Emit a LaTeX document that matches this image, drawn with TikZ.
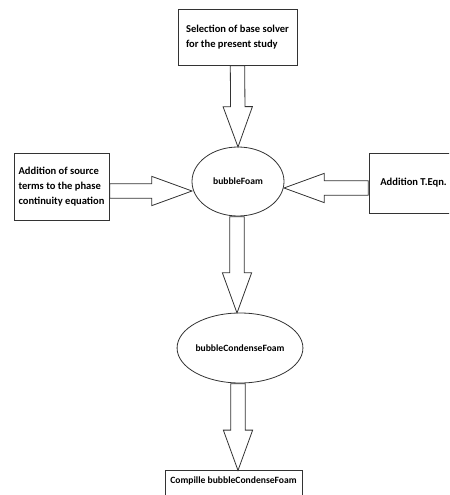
\documentclass[tikz,border=0pt]{standalone}
\usepackage{fontspec}
\setmainfont{Carlito}
\usetikzlibrary{
  positioning,
  shapes.geometric,
  shapes.arrows,
  calc
}

\begin{document}
\begin{tikzpicture}[
  x=0.75pt, y=-0.75pt,
  stage/.style={draw=black!80, line width=0.6pt, align=left, inner sep=0pt,
                font=\fontsize{7.9}{11.25}\selectfont\bfseries},
  solver/.style={draw=black!80, line width=0.6pt, ellipse, inner sep=0pt,
                 font=\fontsize{7.2}{9}\selectfont\bfseries},
  fatarrow/.style={single arrow, draw=black!80, line width=0.6pt,
                   inner xsep=0pt, inner ysep=5.1pt,
                   single arrow head extend=5.6pt, single arrow tip angle=40},
  hollow/.style={to path={let \p1=(\tikztostart), \p2=(\tikztotarget),
                 \n1={veclen(\x2-\x1,\y2-\y1)}, \n2={atan2(\y2-\y1,\x2-\x1)} in
                 node[fatarrow, minimum height=\n1, rotate=\n2, anchor=tail]
                 at (\p1) {} (\tikztotarget)}}
]
  \clip (0,0) rectangle (449,495);
  \useasboundingbox (0,0) rectangle (449,495);

  % Solvers
  \node[solver, minimum width=69pt, minimum height=51.75pt] (foam) at (238, 181.5) {bubbleFoam};
  \node[solver, minimum width=87pt, minimum height=52.5pt] (condense) at (240, 348) {bubbleCondenseFoam};

  % Steps
  \node[stage, minimum width=89.25pt, minimum height=42pt] (base) at (237.5, 37)
    {Selection of base solver\\for the present study};
  \node[stage, minimum width=71.25pt, minimum height=50.25pt] (source) at (61.5, 186.5)
    {Addition of source\\terms to the phase\\continuity equation};
  \node[stage, minimum width=66.75pt, minimum height=45pt] (teqn) at (413.5, 183) {Addition T.Eqn.};
  \node[stage, font=\fontsize{7.2}{9}\selectfont\bfseries, anchor=north, minimum width=102.75pt,
        inner ysep=5pt, text depth=12pt] (compile) at (233.5, 470) {Compille bubbleCondenseFoam};

  % Arrows
  \path (base.south) to[hollow] (foam.north);
  \path (source.east |- 0,191) to[hollow] (foam.west |- 0,191);
  \path (teqn.west |- 0,188) to[hollow] (foam.east |- 0,188);
  \path (foam.south -| 237,0) to[hollow] (condense.north -| 237,0);
  \path (condense.south -| 238,0) to[hollow] (compile.north -| 238,0);
\end{tikzpicture}
\end{document}
